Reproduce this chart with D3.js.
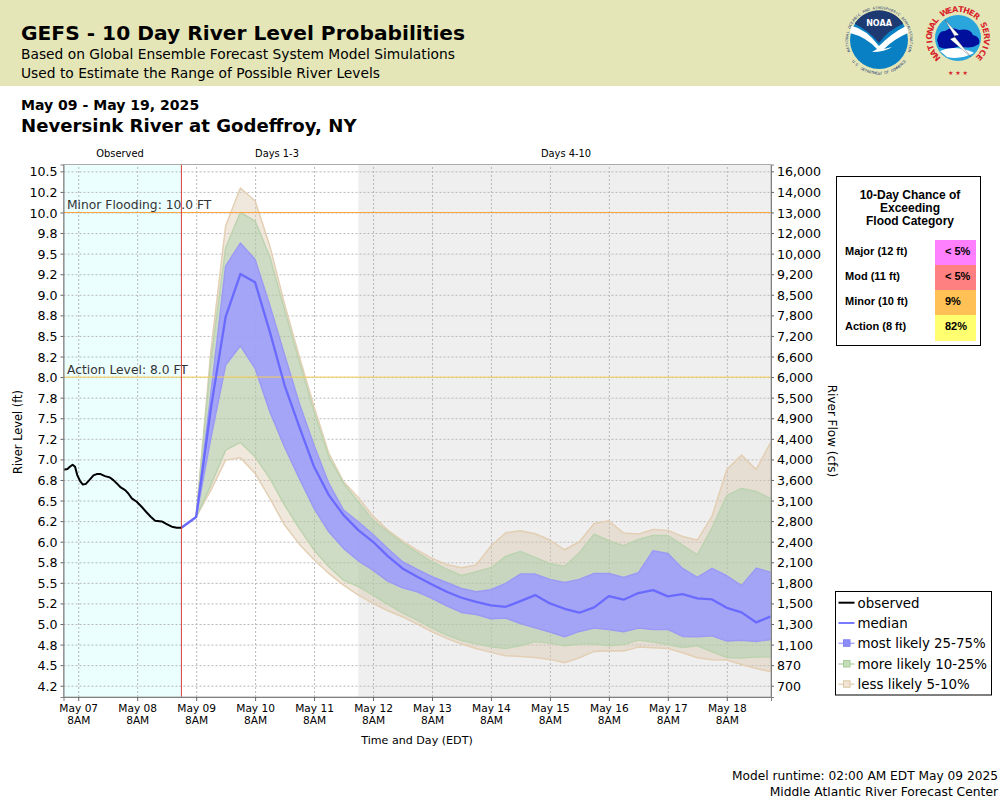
<!DOCTYPE html>
<html><head><meta charset="utf-8">
<script src="https://cdn.jsdelivr.net/npm/d3@7"></script>
<style>html,body{margin:0;padding:0;background:#fff}svg{display:block}text{font-family:"DejaVu Sans",sans-serif}</style>
</head><body><svg id="c" width="1000" height="800"></svg>
<script>
const levelTicks=[10.5,10.25,10,9.75,9.5,9.25,9,8.75,8.5,8.25,8,7.75,7.5,7.25,7,6.75,6.5,6.25,6,5.75,5.5,5.25,5,4.75,4.5,4.25];
const levelLabels=["10.5","10.2","10.0","9.8","9.5","9.2","9.0","8.8","8.5","8.2","8.0","7.8","7.5","7.2","7.0","6.8","6.5","6.2","6.0","5.8","5.5","5.2","5.0","4.8","4.5","4.2"];
const flowLabels=["16,000","14,000","13,000","12,000","10,000","9,200","8,500","7,800","7,200","6,600","6,000","5,500","4,900","4,400","4,000","3,600","3,100","2,800","2,400","2,100","1,800","1,500","1,300","1,100","870","700"];
const dayTicks=[6,30,54,78,102,126,150,174,198,222,246,270];
const dayLabels=["May 07","May 08","May 09","May 10","May 11","May 12","May 13","May 14","May 15","May 16","May 17","May 18"];
const obsHours=[0,1.6,2.6,3.7,4.7,5.6,6.7,7.8,9,10.5,12.2,13.5,15.1,16.9,18.9,20.3,21.7,23.3,25.1,26.4,27.8,29.8,31.8,33.6,35.5,37.3,40,42,44.1,46.1,48];
const obsLevel=[6.874,6.882,6.91,6.935,6.91,6.809,6.74,6.696,6.70,6.748,6.805,6.821,6.821,6.797,6.781,6.748,6.708,6.659,6.627,6.586,6.526,6.485,6.425,6.364,6.303,6.254,6.246,6.214,6.182,6.17,6.17];
const fcstHours=[48,54,60,66,72,78,84,90,96,102,108,114,120,126,132,138,144,150,156,162,168,174,180,186,192,198,204,210,216,222,228,234,240,246,252,258,264,270,276,282,288];
const median=[6.17,6.30,7.62,8.733,9.252,9.151,8.55,7.90,7.396,6.91,6.566,6.323,6.141,5.999,5.825,5.675,5.574,5.481,5.392,5.319,5.270,5.226,5.209,5.278,5.351,5.250,5.185,5.137,5.201,5.339,5.295,5.376,5.412,5.335,5.363,5.311,5.299,5.197,5.141,5.019,5.092];
const p75=[6.17,6.30,7.80,9.349,9.628,9.430,8.87,8.27,7.68,7.17,6.708,6.384,6.242,6.088,5.918,5.756,5.663,5.574,5.505,5.432,5.392,5.416,5.493,5.606,5.606,5.542,5.505,5.542,5.614,5.614,5.566,5.622,5.890,5.857,5.675,5.566,5.675,5.586,5.465,5.679,5.627];
const p25=[6.17,6.30,7.26,8.146,8.38,8.106,7.58,7.15,6.77,6.405,6.12,5.919,5.768,5.655,5.521,5.440,5.392,5.311,5.222,5.141,5.116,5.064,5.072,5.007,4.954,4.902,4.845,4.910,4.950,4.934,4.906,4.950,4.934,4.934,4.849,4.845,4.857,4.792,4.804,4.788,4.813];
const p90=[6.17,6.30,8.207,9.571,10.0,9.895,9.462,8.814,8.186,7.579,7.03,6.708,6.485,6.262,6.121,5.987,5.870,5.756,5.667,5.590,5.635,5.683,5.821,5.882,5.809,5.736,5.700,5.866,6.092,6.011,5.951,6.028,6.076,6.076,5.959,5.841,6.169,6.562,6.647,6.611,6.522];
const p10=[6.17,6.30,6.688,7.113,7.206,7.032,6.769,6.445,6.161,5.898,5.696,5.533,5.455,5.351,5.238,5.137,5.047,4.950,4.865,4.80,4.76,4.723,4.703,4.736,4.788,4.768,4.736,4.756,4.760,4.736,4.752,4.804,4.780,4.752,4.715,4.736,4.663,4.594,4.586,4.598,4.602];
const p95=[6.17,6.30,8.32,9.835,10.297,10.139,9.592,8.887,8.247,7.639,7.073,6.728,6.538,6.311,6.141,6.011,5.898,5.797,5.724,5.683,5.716,5.947,6.109,6.133,6.096,6.020,5.902,5.999,6.222,6.254,6.105,6.092,6.149,6.137,6.064,6.020,6.311,6.878,7.052,6.878,7.214];
const p5=[6.17,6.30,6.627,6.991,7.02,6.83,6.526,6.202,5.97,5.78,5.614,5.473,5.351,5.250,5.161,5.088,4.999,4.906,4.825,4.756,4.703,4.655,4.614,4.606,4.594,4.570,4.529,4.590,4.667,4.675,4.671,4.719,4.711,4.703,4.651,4.590,4.566,4.562,4.509,4.460,4.420];
const legendLabels=["observed","median","most likely 25-75%","more likely 10-25%","less likely 5-10%"];
const floodLabels=["Major (12 ft)","Mod (11 ft)","Minor (10 ft)","Action (8 ft)"];
const floodChance=["< 5%","< 5%","9%","82%"];
const floodColors=["#ff80ff","#ff8080","#ffc055","#ffff70"];

const svg=d3.select("#c");
const L=63.5,R=771,T=164.5,B=697;
const x=d3.scaleLinear().domain([0,288]).range([L,R]);
const y=d3.scaleLinear().domain([4.113,10.583]).range([B,T]);
const txt=(s,px,py,size,o={})=>svg.append("text").attr("x",px).attr("y",py).attr("font-size",size).attr("font-weight",o.w||"normal").attr("fill",o.c||"#000").attr("text-anchor",o.a||"start").style("font-family",o.f||null).text(s);

// header
svg.append("rect").attr("width",1000).attr("height",86).attr("fill","#e5e6b8");
txt("GEFS - 10 Day River Level Probabilities",21,40,20.2,{w:"bold"});
txt("Based on Global Ensemble Forecast System Model Simulations",21,59,13.8);
txt("Used to Estimate the Range of Possible River Levels",21,78,13.8);
txt("May 09 - May 19, 2025",21,110,14.05,{w:"bold"});
txt("Neversink River at Godeffroy, NY",21,132,18.1,{w:"bold"});

// logos: ring lettering is placed one glyph at a time
const ring=(str,cx,cy,r,a0,a1,size,col,bold,flip)=>{
  const n=str.length;
  Array.from(str).forEach((ch,i)=>{
    if(ch===" ")return;
    const a=a0+(a1-a0)*(i+0.5)/n;
    svg.append("text").attr("text-anchor","middle").attr("font-size",size).attr("fill",col).attr("font-weight",bold?"bold":"normal")
      .attr("transform",`translate(${cx},${cy}) rotate(${a}) translate(0,${flip?r:-r})`).text(ch);
  });
};
const noaa=svg.append("g").attr("transform","translate(0,-3)");
noaa.append("circle").attr("cx",879).attr("cy",43).attr("r",29).attr("fill","#0a80c4");
noaa.append("path").attr("d","M 855 26 A 29 29 0 0 1 903 26 L 903 27 Q 888 33 879 46 Q 868 33 855 27 Z").attr("fill","#1d3a72");
noaa.append("path").attr("d","M 852 29 Q 866 32 879 49 Q 892 36 906 29 Q 909 33 908 36 Q 894 42 884 52 L 892 50 Q 885 55 872 55 L 877 52 Q 866 40 850 36 Q 850 32 852 29 Z").attr("fill","#fff");
noaa.append("text").attr("x",879).attr("y",29).attr("text-anchor","middle").attr("font-size",8).attr("font-weight","bold").attr("fill","#fff").text("NOAA");
ring("NATIONAL OCEANIC AND ATMOSPHERIC ADMINISTRATION",879,40,31,-112,112,3.6,"#1d3a72");
ring("U.S. DEPARTMENT OF COMMERCE",879,40,34.5,52,-52,3.6,"#1d3a72",false,true);
const nws=svg.append("g").attr("transform","translate(-5,-1)");
nws.append("circle").attr("cx",963).attr("cy",39).attr("r",23).attr("fill","#2aa6dc");
nws.append("path").attr("d","M 942 41 Q 944 31 950 32 Q 956 27 964 31 Q 975 29 978 36 Q 986 38 984 45 Q 975 51 965 47 Q 952 52 944 48 Z").attr("fill","#000f9c");
nws.append("path").attr("d","M 945 52 Q 955 47 968 50 Q 976 52 979 54 Q 965 61 952 58 Z").attr("fill","#fff");
nws.append("path").attr("d","M 950 21 L 964 36 L 959 37 L 976 58 L 955 40 L 960 38 Z").attr("fill","#fff").attr("stroke","#223").attr("stroke-width",0.3);
ring("NATIONAL WEATHER SERVICE",958,38,26,-138,138,8,"#d8232a",true);
svg.append("text").attr("x",958).attr("y",75).attr("text-anchor","middle").attr("font-size",6).attr("fill","#d8232a").text("★ ★ ★");

// plot backgrounds
svg.append("rect").attr("x",L).attr("y",T).attr("width",x(48)-L).attr("height",B-T).attr("fill","#ebffff");
svg.append("rect").attr("x",x(120)).attr("y",T).attr("width",R-x(120)).attr("height",B-T).attr("fill","#efefef");

// axes & grid
const gridCol="#b8b8b8";
const yG=d3.axisLeft(y).tickValues(levelTicks).tickSize(-(R-L)).tickFormat("");
svg.append("g").attr("transform",`translate(${L},0)`).call(yG).call(g=>{g.select(".domain").remove();g.selectAll("line").attr("stroke",gridCol).attr("stroke-dasharray","2,2")});
const xG=d3.axisBottom(x).tickValues(dayTicks).tickSize(-(B-T)).tickFormat("");
svg.append("g").attr("transform",`translate(0,${B})`).call(xG).call(g=>{g.select(".domain").remove();g.selectAll("line").attr("stroke",gridCol).attr("stroke-dasharray","2,2")});

// bands
const area=(hi,lo)=>d3.area().x((d,i)=>x(fcstHours[i])).y0((d,i)=>y(lo[i])).y1((d,i)=>y(hi[i]))(fcstHours);
const band=(hi,lo,fill,op,stroke)=>svg.append("path").attr("d",area(hi,lo)).attr("fill",fill).attr("fill-opacity",op).attr("stroke",stroke).attr("stroke-width",1.5).attr("stroke-linejoin","round");
band(p95,p5,"rgb(217,197,170)",0.4,"#e3cfb4");
band(p90,p10,"rgb(157,202,163)",0.4,"#bcd3b0");
band(p75,p25,"rgb(157,155,255)",0.85,"#9a9af5");

svg.append("line").attr("x1",L).attr("x2",R).attr("y1",y(10)).attr("y2",y(10)).attr("stroke","#ffa33d").attr("stroke-width",1);
svg.append("line").attr("x1",L).attr("x2",R).attr("y1",y(8)).attr("y2",y(8)).attr("stroke","#f5cc55").attr("stroke-width",1);
txt("Minor Flooding: 10.0 FT",67,208.5,12.3,{c:"#333"});
txt("Action Level: 8.0 FT",67,373.5,12.3,{c:"#333"});

const ln=d3.line().x(d=>x(d[0])).y(d=>y(d[1]));
svg.append("path").attr("d",ln(fcstHours.map((h,i)=>[h,median[i]]))).attr("fill","none").attr("stroke","#6a6aff").attr("stroke-width",2.3).attr("stroke-linejoin","round");
svg.append("path").attr("d",ln(obsHours.map((h,i)=>[h,obsLevel[i]]))).attr("fill","none").attr("stroke","#000").attr("stroke-width",2).attr("stroke-linejoin","round");
svg.append("line").attr("x1",x(48)).attr("x2",x(48)).attr("y1",T).attr("y2",B).attr("stroke","#d8403a").attr("stroke-width",1);

// frame
svg.append("rect").attr("x",L).attr("y",T).attr("width",R-L).attr("height",B-T).attr("fill","none").attr("stroke","#ababab").attr("stroke-width",1);

const axL=d3.axisLeft(y).tickValues(levelTicks).tickSize(3).tickPadding(3).tickFormat((d,i)=>levelLabels[i]);
const axR=d3.axisRight(y).tickValues(levelTicks).tickSize(3).tickPadding(3).tickFormat((d,i)=>flowLabels[i]);
const axB=d3.axisBottom(x).tickValues(dayTicks).tickSize(4).tickPadding(3).tickFormat((d,i)=>dayLabels[i]);
const sty=g=>{g.select(".domain").attr("stroke","#808080");g.selectAll("line").attr("stroke","#666");g.selectAll("text").attr("fill","#000").style("font-family",'"DejaVu Sans",sans-serif')};
svg.append("g").attr("transform",`translate(${L},0)`).call(axL).call(sty).selectAll("text").attr("font-size",12.6).attr("dy","0.36em");
svg.append("g").attr("transform",`translate(${R},0)`).call(axR).call(sty).selectAll("text").attr("font-size",12.6).attr("dy","0.36em");
const gB=svg.append("g").attr("transform",`translate(0,${B})`).call(axB).call(sty);
gB.selectAll("text").attr("font-size",10.6).attr("dy",null).attr("y",0).each(function(){
  const t=d3.select(this),s=t.text();
  t.text(null);
  t.append("tspan").attr("x",0).attr("y",15).text(s);
  t.append("tspan").attr("x",0).attr("y",27).text("8AM");
});

txt("Observed",120,157,9.9,{a:"middle"});
txt("Days 1-3",277,157,9.9,{a:"middle"});
txt("Days 4-10",566,157,9.9,{a:"middle"});
txt("Time and Day (EDT)",417,744,11.1,{a:"middle"});
svg.append("text").attr("transform","translate(22,432) rotate(-90)").attr("text-anchor","middle").attr("font-size",11.4).text("River Level (ft)");
svg.append("text").attr("transform","translate(828,431) rotate(90)").attr("text-anchor","middle").attr("font-size",12).text("River Flow (cfs)");
txt("Model runtime: 02:00 AM EDT May 09 2025",998,780,12.2,{a:"end"});
txt("Middle Atlantic River Forecast Center",998,796,12.3,{a:"end"});

// flood box
const lib='"Liberation Sans",sans-serif';
svg.append("rect").attr("x",836.5).attr("y",176.5).attr("width",144).attr("height",169).attr("fill","#fff").attr("stroke","#000");
["10-Day Chance of","Exceeding","Flood Category"].forEach((s,i)=>txt(s,910,199+i*13,12,{a:"middle",w:"bold",f:lib}));
const cellY=[240,265,290,315,341];
floodLabels.forEach((s,i)=>{
  svg.append("rect").attr("x",935).attr("y",cellY[i]).attr("width",41).attr("height",cellY[i+1]-cellY[i]).attr("fill",floodColors[i]);
  txt(s,845,255+i*25,11,{w:"bold",f:lib});
  txt(floodChance[i],945,255+i*25,11,{w:"bold",f:lib});
});

// legend
svg.append("rect").attr("x",835.5).attr("y",591.5).attr("width",156).attr("height",103.5).attr("fill","#fff").attr("stroke","#000");
const legY=[602.7,623,643.3,664,684.3];
const legLine=["#000","#7a7aff","#a8a8ff","#bcd8b0","#e8d4bc"];
const legFill=[null,null,"#8c8cf8","#c4dcb8","#f0e4d4"];
const legStroke=[null,null,"#8080f0","#a8cc98","#dcc8a8"];
legendLabels.forEach((s,i)=>{
  svg.append("line").attr("x1",838.5).attr("x2",854.5).attr("y1",legY[i]).attr("y2",legY[i]).attr("stroke",legLine[i]).attr("stroke-width",i<2?2:1.5);
  if(legFill[i])svg.append("rect").attr("x",843.5).attr("y",legY[i]-3.5).attr("width",6.5).attr("height",6.5).attr("fill",legFill[i]).attr("stroke",legStroke[i]);
  txt(s,857.5,legY[i]+5,13.4);
});
</script></body></html>
